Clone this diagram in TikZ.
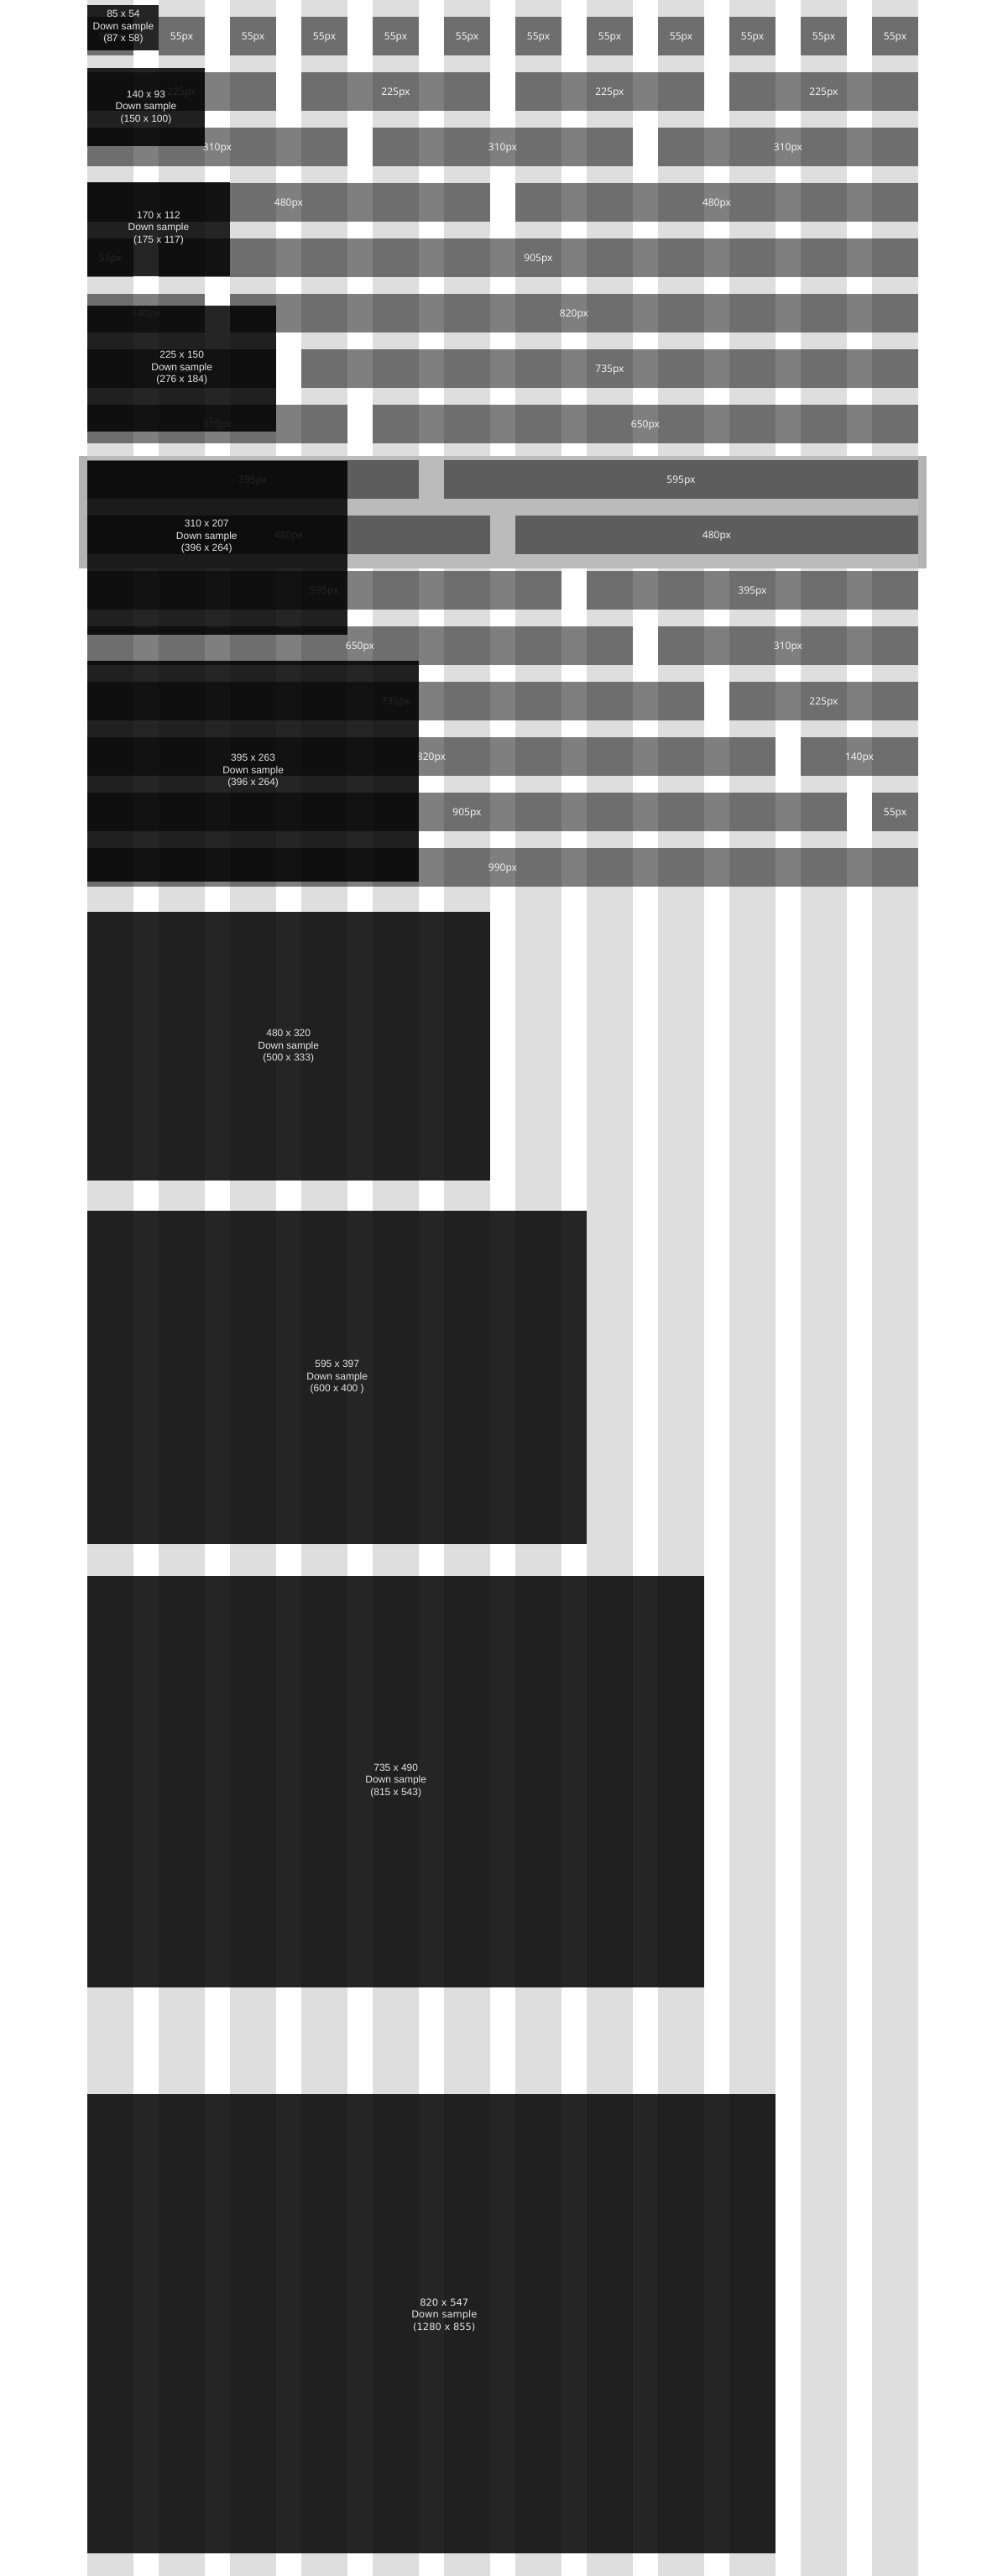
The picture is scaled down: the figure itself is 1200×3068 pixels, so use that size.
\documentclass[tikz,border=0pt]{standalone}
\usepackage{fontspec}
\newfontfamily\lblfont{Noto Sans}
\newfontfamily\boxfont{Liberation Sans}
\newfontfamily\boxfontb{DejaVu Sans}
\definecolor{colgray}{HTML}{DEDEDE}
\definecolor{bandout}{HTML}{B3B3B3}
\definecolor{bandin}{HTML}{BBBBBB}
\definecolor{lbltext}{HTML}{F2F2F2}
\definecolor{boxtext}{HTML}{E4E4E4}
\tikzset{
  colstripe/.style={fill=colgray},
  gbarfill/.style={fill=black, fill opacity=0.5},
  gbarlbl/.style={text=lbltext, font=\lblfont\fontsize{12}{14}\selectfont, inner sep=0pt, anchor=base},
  imgbox/.style={fill=black, fill opacity=0.856},
  imglbl/.style={text=boxtext, align=center, font=\boxfont\fontsize{12}{14.5}\selectfont, inner sep=0pt},
}
% row, start column, number of columns, label, label x shift
\newcommand\gbar[5]{%
  \path[gbarfill] ({104+85*#2},{20+66*#1}) rectangle ({104+85*#2+85*#3-30},{66+66*#1});
  \node[gbarlbl] (r#1c#2) at ({104+85*#2+(85*#3-30)/2+#5},{47.5+66*#1}) {#4};
}
\begin{document}
\begin{tikzpicture}[x=1pt,y=-1pt]
\useasboundingbox (0,0) rectangle (1200,3068);
\fill[white] (0,0) rectangle (1200,3068);
% column stripes
\foreach \i in {0,...,11} {
  \fill[colstripe] ({104+85*\i},0) rectangle ({159+85*\i},3068);
}
% highlighted band
\fill[bandout] (94,543) rectangle (1104,677);
\fill[bandin] (104,543) rectangle (1094,677);
% bars
\foreach \c in {0,...,11} {\gbar{0}{\c}{1}{55px}{0}}
\foreach \c in {0,3,6,9} {\gbar{1}{\c}{3}{225px}{0}}
\foreach \c in {0,4,8} {\gbar{2}{\c}{4}{310px}{0}}
\gbar{3}{0}{6}{480px}{0}
\gbar{3}{6}{6}{480px}{0}
\gbar{4}{0}{1}{55px}{0}
\gbar{4}{1}{11}{905px}{0}
\gbar{5}{0}{2}{140px}{0}
\gbar{5}{2}{10}{820px}{0}
\gbar{6}{0}{3}{225px}{0}
\gbar{6}{3}{9}{735px}{0}
\gbar{7}{0}{4}{310px}{0}
\gbar{7}{4}{8}{650px}{0}
\gbar{8}{0}{5}{395px}{0}
\gbar{8}{5}{7}{595px}{0}
\gbar{9}{0}{6}{480px}{0}
\gbar{9}{6}{6}{480px}{0}
\gbar{10}{0}{7}{595px}{0}
\gbar{10}{7}{5}{395px}{0}
\gbar{11}{0}{8}{650px}{0}
\gbar{11}{8}{4}{310px}{0}
\gbar{12}{0}{9}{735px}{0}
\gbar{12}{9}{3}{225px}{0}
\gbar{13}{0}{10}{820px}{0}
\gbar{13}{10}{2}{140px}{0}
\gbar{14}{0}{11}{905px}{0}
\gbar{14}{11}{1}{55px}{0}
\gbar{15}{0}{12}{990px}{0}
% image boxes
\path[imgbox] (104,6) rectangle (189,60);
\path[imgbox] (104,81) rectangle (244,174);
\path[imgbox] (104,217) rectangle (274,329);
\path[imgbox] (104,364) rectangle (329,514);
\path[imgbox] (104,549) rectangle (414,756);
\path[imgbox] (104,787) rectangle (499,1050);
\path[imgbox] (104,1086) rectangle (584,1406);
\path[imgbox] (104,1442) rectangle (699,1839);
\path[imgbox] (104,1877) rectangle (839,2367);
\path[imgbox] (104,2494) rectangle (924,3041);
% image labels
\node[imglbl] (t1) at (147,32.3) {85 x 54\\Down sample\\(87 x 58)};
\node[imglbl] (t2) at (174,127.7) {140 x 93\\Down sample\\(150 x 100)};
\node[imglbl] (t3) at (189,272) {170 x 112\\Down sample\\(175 x 117)};
\node[imglbl] (t4) at (216.7,438.3) {225 x 150\\Down sample\\(276 x 184)};
\node[imglbl] (t5) at (246.3,639.3) {310 x 207\\Down sample\\(396 x 264)};
\node[imglbl] (t6) at (301.6,918.3) {395 x 263\\Down sample\\(396 x 264)};
\node[imglbl] (t7) at (343.7,1246.3) {480 x 320\\Down sample\\(500 x 333)};
\node[imglbl] (t8) at (401.7,1640.3) {595 x 397\\Down sample\\(600 x 400 )};
\node[imglbl] (t9) at (471.7,2121) {735 x 490\\Down sample\\(815 x 543)};
\node[imglbl, font=\boxfontb\fontsize{11.5}{14.5}\selectfont] (t10) at (529.3,2757) {820 x 547\\Down sample\\(1280 x 855)};
\end{tikzpicture}
\end{document}
